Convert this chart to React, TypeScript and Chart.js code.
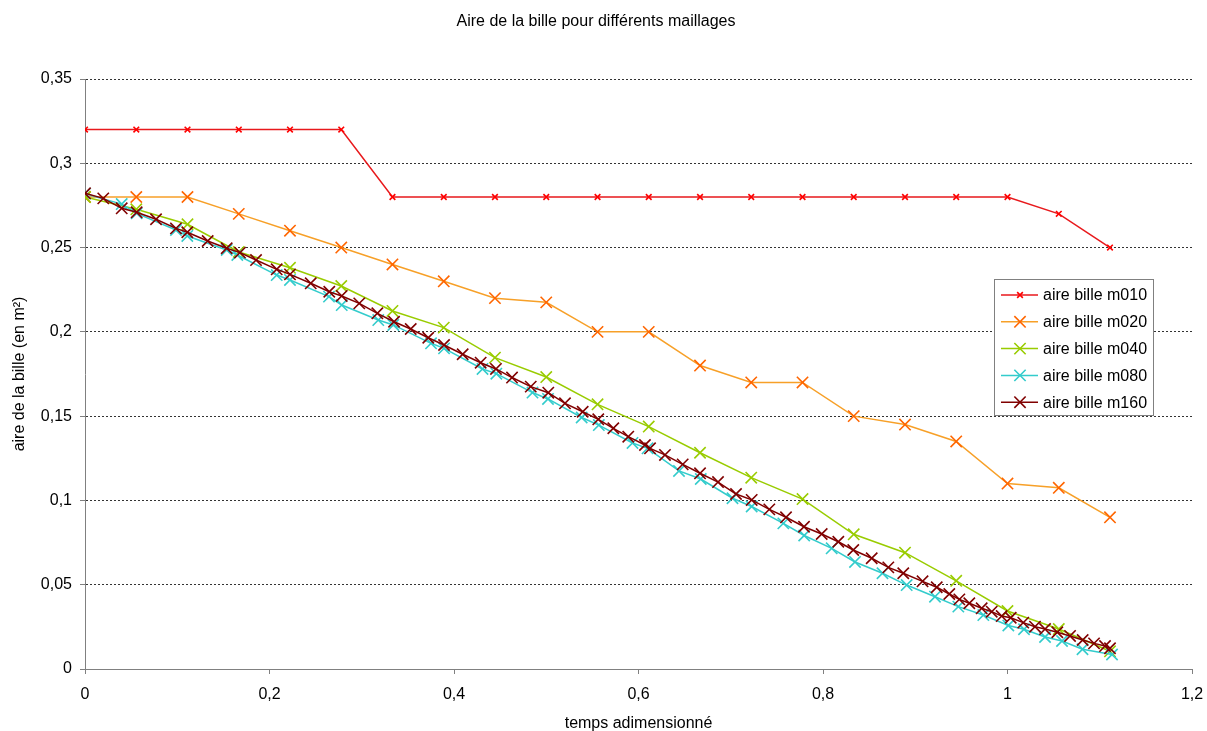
import React, { useEffect, useRef } from "react";
import { Chart, registerables } from "chart.js";

Chart.register(...registerables);

const chartTitle = "Aire de la bille pour différents maillages";
const xAxisTitle = "temps adimensionné";
const yAxisTitle = "aire de la bille (en m²)";
const xTickLabels = ["0", "0,2", "0,4", "0,6", "0,8", "1", "1,2"];
const yTickLabels = ["0", "0,05", "0,1", "0,15", "0,2", "0,25", "0,3", "0,35"];
const seriesNames = ["aire bille m010", "aire bille m020", "aire bille m040", "aire bille m080", "aire bille m160"];

const tCoarse = [0, 0.0556, 0.1111, 0.1667, 0.2222, 0.2778, 0.3333, 0.3889, 0.4444, 0.5, 0.5556, 0.6111, 0.6667, 0.7222, 0.7778, 0.8333, 0.8889, 0.9444, 1.0, 1.0556, 1.1111];
const m010 = [0.32, 0.32, 0.32, 0.32, 0.32, 0.32, 0.28, 0.28, 0.28, 0.28, 0.28, 0.28, 0.28, 0.28, 0.28, 0.28, 0.28, 0.28, 0.28, 0.27, 0.25];
const m020 = [0.28, 0.28, 0.28, 0.27, 0.26, 0.25, 0.24, 0.23, 0.22, 0.2175, 0.2, 0.2, 0.18, 0.17, 0.17, 0.15, 0.145, 0.135, 0.11, 0.1075, 0.09];
const m040 = [0.28, 0.2727, 0.2638, 0.2474, 0.238, 0.2272, 0.2124, 0.2025, 0.1847, 0.1732, 0.157, 0.1438, 0.1283, 0.1135, 0.1008, 0.0799, 0.069, 0.0523, 0.0344, 0.0237, 0.0105];

const t080 = [0, 0.0398, 0.056, 0.0986, 0.1109, 0.1536, 0.1651, 0.2078, 0.2222, 0.2645, 0.2783, 0.3179, 0.3342, 0.3751, 0.3892, 0.4309, 0.4459, 0.4851, 0.5019, 0.5384, 0.557, 0.5935, 0.6098, 0.6439, 0.6675, 0.7019, 0.7227, 0.757, 0.7796, 0.8094, 0.8347, 0.8645, 0.8907, 0.9214, 0.9467, 0.9738, 1.0009, 1.0179, 1.0407, 1.0591, 1.0813, 1.1133];
const m080 = [0.282, 0.2758, 0.2703, 0.2604, 0.2569, 0.2486, 0.2456, 0.2337, 0.2308, 0.2209, 0.2159, 0.207, 0.2041, 0.1932, 0.1902, 0.178, 0.1752, 0.164, 0.1602, 0.1492, 0.1447, 0.1341, 0.1309, 0.1175, 0.1127, 0.1013, 0.0964, 0.0864, 0.0792, 0.0716, 0.0635, 0.0568, 0.0498, 0.0429, 0.037, 0.032, 0.0258, 0.0236, 0.019, 0.0166, 0.0117, 0.0086];

const t160 = [0, 0.0198, 0.0398, 0.056, 0.077, 0.0986, 0.1109, 0.133, 0.1536, 0.168, 0.1854, 0.2078, 0.2222, 0.2447, 0.2648, 0.2783, 0.2973, 0.3169, 0.335, 0.3531, 0.3721, 0.3892, 0.4094, 0.4289, 0.4455, 0.4629, 0.4832, 0.5022, 0.5203, 0.5395, 0.5564, 0.5727, 0.5889, 0.607, 0.6125, 0.6287, 0.6479, 0.6667, 0.6862, 0.7057, 0.7227, 0.7418, 0.7599, 0.7794, 0.7986, 0.8166, 0.8328, 0.8528, 0.8708, 0.887, 0.9079, 0.9233, 0.9369, 0.9478, 0.9586, 0.972, 0.9829, 0.9937, 1.0035, 1.0171, 1.0298, 1.0407, 1.054, 1.0678, 1.0815, 1.0938, 1.1057, 1.1111];
const m160 = [0.2822, 0.2792, 0.2733, 0.2709, 0.2668, 0.2614, 0.2591, 0.2539, 0.2496, 0.247, 0.2426, 0.2371, 0.2341, 0.2288, 0.2238, 0.2213, 0.2169, 0.211, 0.206, 0.2017, 0.1965, 0.1922, 0.1867, 0.1817, 0.178, 0.1729, 0.1675, 0.1639, 0.1576, 0.1526, 0.1481, 0.1428, 0.1378, 0.1329, 0.1309, 0.127, 0.1214, 0.1161, 0.1109, 0.1038, 0.1003, 0.0947, 0.09, 0.0844, 0.0801, 0.0755, 0.0706, 0.0657, 0.0603, 0.0568, 0.052, 0.0485, 0.0445, 0.0413, 0.039, 0.036, 0.034, 0.0314, 0.0304, 0.0275, 0.0251, 0.0237, 0.0218, 0.0196, 0.0172, 0.0152, 0.0136, 0.0123];

const FONT = "'Liberation Sans', Arial, sans-serif";

const toPoints = (xs: number[], ys: number[]) => xs.map((x, i) => ({ x, y: ys[i] }));

const legendPlugin = {
  id: "boxLegend",
  afterDraw(chart: any) {
    const ctx = chart.ctx;
    const boxX = 994, boxY = 279, boxW = 159, boxH = 136;
    ctx.save();
    ctx.fillStyle = "#ffffff";
    ctx.fillRect(boxX, boxY, boxW, boxH);
    ctx.strokeStyle = "#808080";
    ctx.lineWidth = 1;
    ctx.setLineDash([]);
    ctx.strokeRect(boxX + 0.5, boxY + 0.5, boxW, boxH);
    chart.data.datasets.forEach((ds: any, i: number) => {
      const cy = boxY + 16 + i * 26.8;
      ctx.strokeStyle = ds.borderColor;
      ctx.lineWidth = 1.5;
      ctx.beginPath();
      ctx.moveTo(1001, cy);
      ctx.lineTo(1038, cy);
      ctx.stroke();
      const r = ds.pointRadius * 0.707;
      ctx.strokeStyle = ds.pointBorderColor;
      ctx.lineWidth = ds.pointBorderWidth;
      ctx.beginPath();
      ctx.moveTo(1020 - r, cy - r);
      ctx.lineTo(1020 + r, cy + r);
      ctx.moveTo(1020 - r, cy + r);
      ctx.lineTo(1020 + r, cy - r);
      ctx.stroke();
      ctx.fillStyle = "#000000";
      ctx.font = `16px ${FONT}`;
      ctx.textAlign = "left";
      ctx.textBaseline = "middle";
      ctx.fillText(ds.label, 1043, cy + 1);
    });
    ctx.restore();
  },
};

export default function App() {
  const ref = useRef<HTMLCanvasElement>(null);
  useEffect(() => {
    if (!ref.current) return;
    const mk = (label: string, pts: any[], line: string, marker: string, radius: number, order: number) => ({
      label,
      data: pts,
      borderColor: line,
      backgroundColor: line,
      borderWidth: 1.5,
      pointStyle: "crossRot",
      pointRadius: radius,
      pointBorderColor: marker,
      pointBorderWidth: 1.6,
      pointBackgroundColor: marker,
      tension: 0,
      order,
    });
    const chart = new Chart(ref.current, {
      type: "line",
      data: {
        datasets: [
          mk(seriesNames[0], toPoints(tCoarse, m010), "#E8191C", "#FF0000", 4, 5),
          mk(seriesNames[1], toPoints(tCoarse, m020), "#F7A028", "#FF6600", 8, 4),
          mk(seriesNames[2], toPoints(tCoarse, m040), "#99CC00", "#99CC00", 8, 3),
          mk(seriesNames[3], toPoints(t080, m080), "#33CCCC", "#33CCCC", 8, 2),
          mk(seriesNames[4], toPoints(t160, m160), "#800000", "#800000", 8, 1),
        ] as any,
      },
      options: {
        animation: false,
        responsive: false,
        devicePixelRatio: 1,
        layout: { padding: { left: 0, right: 15, top: 0, bottom: 0 } },
        plugins: {
          legend: { display: false },
          tooltip: { enabled: false },
          title: {
            display: true,
            text: chartTitle,
            color: "#000",
            font: { family: FONT, size: 16, weight: "normal" },
            padding: { top: 12, bottom: 47.8 },
          },
        },
        scales: {
          x: {
            type: "linear",
            min: 0,
            max: 1.2,
            afterFit: (s: any) => {
              s.height = 62;
              s.paddingRight = 0;
              s.paddingLeft = 0;
            },
            ticks: {
              stepSize: 0.2,
              padding: 11,
              color: "#000",
              font: { family: FONT, size: 16 },
              callback: (_v: any, i: number) => xTickLabels[i],
              maxRotation: 0,
            },
            grid: {
              drawOnChartArea: false,
              drawTicks: true,
              tickLength: 5,
              tickColor: "#808080",
            },
            border: { display: true, color: "#808080", width: 1 },
            title: {
              display: true,
              text: xAxisTitle,
              color: "#000",
              font: { family: FONT, size: 16 },
              padding: { top: 0, bottom: -2 },
            },
          },
          y: {
            type: "linear",
            min: 0,
            max: 0.35,
            afterFit: (s: any) => { s.width = 85; },
            ticks: {
              stepSize: 0.05,
              padding: 8,
              color: "#000",
              font: { family: FONT, size: 16 },
              callback: (_v: any, i: number) => yTickLabels[i],
            },
            grid: {
              color: "#333333",
              lineWidth: 1,
              tickLength: 5,
              tickColor: "#808080",
              tickBorderDash: [],
            } as any,
            border: { display: true, color: "#808080", width: 1, dash: [2, 2] },
            title: {
              display: true,
              text: yAxisTitle,
              color: "#000",
              font: { family: FONT, size: 16 },
              padding: { top: 10, bottom: 0 },
            },
          },
        },
      } as any,
      plugins: [legendPlugin],
    });
    return () => chart.destroy();
  }, []);
  return (
    <canvas
      ref={ref}
      width={1207}
      height={731}
      style={{ position: "absolute", left: 0, top: 0, display: "block" }}
    />
  );
}
